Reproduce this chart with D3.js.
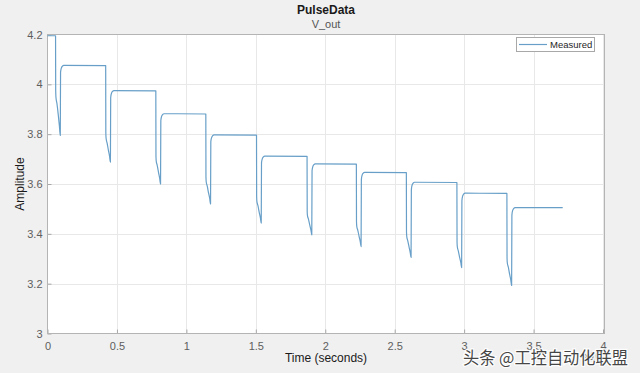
<!DOCTYPE html>
<html>
<head>
<meta charset="utf-8">
<script src="https://cdn.jsdelivr.net/npm/d3@7/dist/d3.min.js"></script>
<style>
  html, body { margin: 0; padding: 0; background: #f0f0f0; }
  svg { display: block; font-family: "Liberation Sans", Arial, sans-serif; }
</style>
</head>
<body>
<svg id="chart" width="640" height="373"></svg>
<script>
// ---- Data ----
const title = "PulseData";
const subtitle = "V_out";
const seriesName = "Measured";
const xTicks = [0, 0.5, 1, 1.5, 2, 2.5, 3, 3.5, 4];
const yTicks = [3, 3.2, 3.4, 3.6, 3.8, 4, 4.2];
const xTickLabels = ["0", "0.5", "1", "1.5", "2", "2.5", "3", "3.5", "4"];
const yTickLabels = ["3", "3.2", "3.4", "3.6", "3.8", "4", "4.2"];

// time (x10^4 s)
const time = [
  0, 0.058, 0.059, 0.061, 0.068, 0.078, 0.086, 0.092, 0.094, 0.099, 0.106, 0.118,
  0.419, 0.420, 0.422, 0.429, 0.439, 0.447, 0.453, 0.455, 0.460, 0.467, 0.479,
  0.780, 0.781, 0.783, 0.790, 0.800, 0.808, 0.814, 0.816, 0.821, 0.828, 0.840,
  1.140, 1.141, 1.143, 1.150, 1.160, 1.168, 1.174, 1.176, 1.181, 1.188, 1.200,
  1.505, 1.506, 1.508, 1.515, 1.525, 1.533, 1.539, 1.541, 1.546, 1.553, 1.565,
  1.869, 1.870, 1.872, 1.879, 1.889, 1.897, 1.903, 1.905, 1.910, 1.917, 1.929,
  2.224, 2.225, 2.227, 2.234, 2.244, 2.252, 2.258, 2.260, 2.265, 2.272, 2.284,
  2.584, 2.585, 2.587, 2.594, 2.604, 2.612, 2.618, 2.620, 2.625, 2.632, 2.644,
  2.948, 2.949, 2.951, 2.958, 2.968, 2.976, 2.982, 2.984, 2.989, 2.996, 3.008,
  3.308, 3.309, 3.311, 3.318, 3.328, 3.336, 3.342, 3.344, 3.349, 3.356, 3.368,
  3.710
];
// amplitude (V)
const amplitude = [
  4.195, 4.195, 3.975, 3.947, 3.923, 3.875, 3.831, 3.795, 4.048, 4.064, 4.072, 4.076,
  4.075, 3.804, 3.783, 3.765, 3.734, 3.711, 3.688, 3.946, 3.963, 3.971, 3.975,
  3.974, 3.712, 3.692, 3.675, 3.645, 3.622, 3.600, 3.854, 3.870, 3.878, 3.882,
  3.881, 3.628, 3.608, 3.592, 3.563, 3.542, 3.520, 3.769, 3.785, 3.793, 3.797,
  3.796, 3.549, 3.529, 3.514, 3.485, 3.464, 3.443, 3.685, 3.700, 3.708, 3.712,
  3.711, 3.490, 3.473, 3.459, 3.434, 3.415, 3.396, 3.653, 3.669, 3.677, 3.681,
  3.680, 3.448, 3.430, 3.415, 3.389, 3.369, 3.349, 3.617, 3.635, 3.643, 3.647,
  3.646, 3.407, 3.389, 3.373, 3.346, 3.325, 3.305, 3.577, 3.595, 3.603, 3.607,
  3.606, 3.367, 3.348, 3.332, 3.305, 3.285, 3.264, 3.533, 3.551, 3.559, 3.563,
  3.562, 3.304, 3.283, 3.267, 3.237, 3.215, 3.193, 3.474, 3.493, 3.501, 3.505,
  3.505
];

// ---- Layout ----
const svg = d3.select("#chart");
const W = 640, H = 373;
const m = { left: 47.5, right: 35.5, top: 34.5, bottom: 39.5 };
const x0 = m.left, x1 = W - m.right, y0 = m.top, y1 = H - m.bottom;

const x = d3.scaleLinear().domain([0, 4]).range([x0, x1 - 1.5]);
const y = d3.scaleLinear().domain([3, 4.2]).range([y1, y0]);

svg.append("rect").attr("width", W).attr("height", H).attr("fill", "#f0f0f0");
svg.append("rect").attr("x", x0).attr("y", y0).attr("width", x1 - x0).attr("height", y1 - y0).attr("fill", "#ffffff");

// grid
const grid = svg.append("g").attr("stroke", "#e8e8e8").attr("stroke-width", 1);
grid.selectAll("line.gx").data(xTicks.slice(1)).join("line")
  .attr("x1", d => Math.round(x(d)) + 0.5).attr("x2", d => Math.round(x(d)) + 0.5)
  .attr("y1", y0).attr("y2", y1);
grid.selectAll("line.gy").data(yTicks.slice(1, -1)).join("line")
  .attr("y1", d => Math.round(y(d)) + 0.5).attr("y2", d => Math.round(y(d)) + 0.5)
  .attr("x1", x0).attr("x2", x1);

// axes (MATLAB-like, ticks inward)
const xAxis = d3.axisBottom(x).tickValues(xTicks).tickFormat((d, i) => xTickLabels[i]).tickSizeInner(-4).tickSizeOuter(0).tickPadding(9);
const yAxis = d3.axisLeft(y).tickValues(yTicks).tickFormat((d, i) => yTickLabels[i]).tickSizeInner(-4).tickSizeOuter(0).tickPadding(5);

const gx = svg.append("g").attr("transform", `translate(0,${y1})`).call(xAxis);
const gy = svg.append("g").attr("transform", `translate(${x0},0)`).call(yAxis);
[gx, gy].forEach(g => {
  g.select(".domain").remove();
  g.selectAll(".tick line").attr("stroke", "#a8a8a8");
  g.selectAll(".tick text").attr("fill", "#5e5e5e").style("font-size", "11px");
});

// frame
svg.append("rect").attr("x", x0).attr("y", y0).attr("width", x1 - x0).attr("height", y1 - y0)
  .attr("fill", "none").attr("stroke", "#b4b4b4").attr("stroke-width", 1);

// line
const pts = time.map((t, i) => [t, amplitude[i]]);
const line = d3.line().x(d => x(d[0])).y(d => y(d[1])).curve(d3.curveMonotoneX);
svg.append("path").datum(pts).attr("d", line)
  .attr("fill", "none").attr("stroke", "#679fc8").attr("stroke-width", 1.2)
  .attr("stroke-linejoin", "round");

// legend
const lg = svg.append("g");
lg.append("rect").attr("x", 516.5).attr("y", 37.5).attr("width", 78).attr("height", 14)
  .attr("fill", "#ffffff").attr("stroke", "#a8a8a8");
lg.append("line").attr("x1", 519).attr("x2", 547).attr("y1", 44.5).attr("y2", 44.5)
  .attr("stroke", "#679fc8").attr("stroke-width", 1.2);
lg.append("text").attr("x", 550).attr("y", 48.2).text(seriesName)
  .attr("fill", "#262626").style("font-size", "9.5px");

// titles
svg.append("text").attr("x", 326).attr("y", 14).attr("text-anchor", "middle")
  .style("font-size", "12px").style("font-weight", "bold").attr("fill", "#1a1a1a").text(title);
svg.append("text").attr("x", 326).attr("y", 28).attr("text-anchor", "middle")
  .style("font-size", "11px").attr("fill", "#555").text(subtitle);

// axis labels
svg.append("text").attr("x", 326).attr("y", 362).attr("text-anchor", "middle")
  .style("font-size", "12px").attr("fill", "#1a1a1a").text("Time (seconds)");
svg.append("text").attr("transform", "translate(24,184) rotate(-90)").attr("text-anchor", "middle")
  .style("font-size", "12px").attr("fill", "#1a1a1a").text("Amplitude");

// exponent label
const ex = svg.append("text").attr("x", 584).attr("y", 360).attr("fill", "#5e5e5e").style("font-size", "10px");
ex.append("tspan").text("×10");
ex.append("tspan").attr("dy", -6).style("font-size", "8px").text("4");

// watermark
svg.append("text").attr("x", 463).attr("y", 364)
  .style("font-family", "'Noto Sans CJK SC', sans-serif").style("font-size", "17px")
  .attr("textLength", 165).attr("lengthAdjust", "spacingAndGlyphs")
  .attr("fill", "#333").attr("stroke", "#ffffff").attr("stroke-width", 2.5)
  .attr("paint-order", "stroke").attr("opacity", 0.9)
  .text("头条 @工控自动化联盟");
</script>
</body>
</html>
